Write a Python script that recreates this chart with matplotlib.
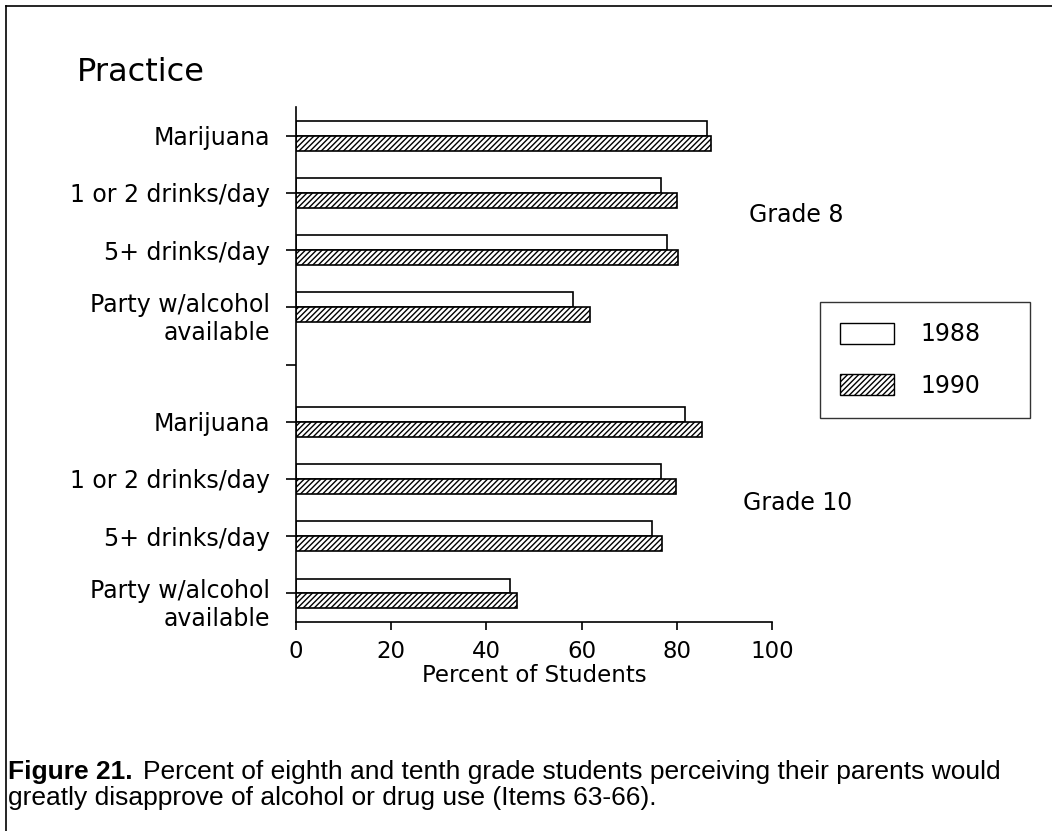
import matplotlib.pyplot as plt
from matplotlib.patches import Patch
from matplotlib.lines import Line2D
from matplotlib.transforms import ScaledTranslation

# values (percent of students)
items = ["Marijuana", "1 or 2 drinks/day", "5+ drinks/day", "Party w/alcohol\navailable"]
grade8_1988 = [86.3, 76.6, 78.0, 58.2]
grade8_1990 = [87.2, 80.0, 80.2, 61.8]
grade10_1988 = [81.8, 76.6, 74.7, 44.9]
grade10_1990 = [85.4, 79.9, 76.8, 46.5]
years = ["1988", "1990"]
x_ticks = [0, 20, 40, 60, 80, 100]

plt.rcParams['hatch.linewidth'] = 1.0
plt.rcParams['font.family'] = ['DejaVu Sans']

fig = plt.figure(figsize=(10.52, 8.31), dpi=100)
ax = fig.add_axes([0.2814, 0.2515, 0.4524, 0.6197])

# slots: grade 8 on 0-3, empty slot 4, grade 10 on 5-8
slots8 = list(range(len(items)))
slots10 = [s + len(items) + 1 for s in slots8]
h = 0.26
hatch = '//////'

ax.barh([s - h / 2 for s in slots8], grade8_1988, height=h, color='white', edgecolor='black', lw=1.2)
ax.barh([s + h / 2 for s in slots8], grade8_1990, height=h, color='white', edgecolor='black', hatch=hatch, lw=1.2)
ax.barh([s - h / 2 for s in slots10], grade10_1988, height=h, color='white', edgecolor='black', lw=1.2)
ax.barh([s + h / 2 for s in slots10], grade10_1990, height=h, color='white', edgecolor='black', hatch=hatch, lw=1.2)

ax.set_xlim(0, 100)
ax.set_ylim(slots10[-1] + 0.5, -0.5)
ax.set_yticks(slots8 + [len(items)] + slots10)
ax.set_yticklabels(items + [""] + items)
ax.set_xticks(x_ticks)
ax.set_xticklabels([str(t) for t in x_ticks])

for side in ["top", "right"]:
    ax.spines[side].set_visible(False)
for side in ["left", "bottom"]:
    ax.spines[side].set_linewidth(1.2)
ax.tick_params(axis='y', direction='out', length=7, width=1.2, pad=12, labelsize=17)
ax.tick_params(axis='x', direction='out', length=6, width=1.2, pad=7, labelsize=16.5)

# two-line labels: first line sits on the tick
for lbl in ax.get_yticklabels():
    if "\n" in lbl.get_text():
        lbl.set_va('top')
        lbl.set_transform(lbl.get_transform() + ScaledTranslation(0, 0.145, fig.dpi_scale_trans))

ax.set_xlabel("Percent of Students", fontsize=16.5, labelpad=1)

fig.text(0.073, 0.913, "Practice", fontsize=23, va='center', ha='left')
fig.text(0.712, 0.741, "Grade 8", fontsize=17, va='center', ha='left')
fig.text(0.706, 0.395, "Grade 10", fontsize=17, va='center', ha='left')

handles = [Patch(facecolor='white', edgecolor='black', lw=1.0),
           Patch(facecolor='white', edgecolor='black', hatch=hatch, lw=1.0)]
leg = fig.legend(handles, years, loc='center', mode='expand',
                 bbox_to_anchor=(820 / 1052, 1 - 415 / 831, 210 / 1052, 110 / 831),
                 fontsize=17, frameon=True, fancybox=False, edgecolor='black',
                 handlelength=2.3, handleheight=1.0, handletextpad=1.1,
                 borderpad=0.85, labelspacing=1.15, borderaxespad=0)
leg.get_frame().set_linewidth(1.0)

# page frame
fig.add_artist(Line2D([0.006, 0.006], [0.0, 0.993], color='black', lw=1.2))
fig.add_artist(Line2D([0.006, 1.0], [0.993, 0.993], color='black', lw=1.2))

cap_font = ['Liberation Sans']
t1 = fig.text(0.008, 0.071, "Figure 21.", fontsize=19, fontweight='bold', family=cap_font, va='center')
ax.annotate("Percent of eighth and tenth grade students perceiving their parents would",
            xy=(1, 0.5), xycoords=t1, xytext=(7, 0), textcoords='offset points',
            fontsize=19, family=cap_font, va='center', ha='left', annotation_clip=False)
fig.text(0.008, 0.040, "greatly disapprove of alcohol or drug use (Items 63-66).",
         fontsize=19, family=cap_font, va='center')

fig.savefig("out.png", dpi=100)
